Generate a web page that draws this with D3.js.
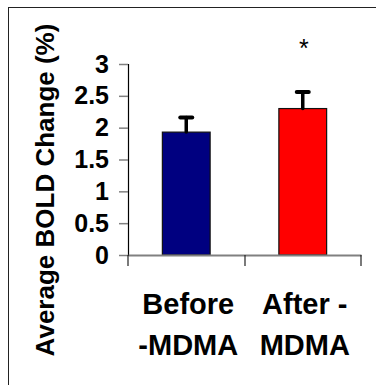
<!DOCTYPE html>
<html>
<head>
<meta charset="utf-8">
<script src="https://cdn.jsdelivr.net/npm/d3@7"></script>
<style>
    body { margin: 0; background: #fff; }
    svg { display: block; }
</style>
</head>
<body>
<svg id="chart"></svg>
<script>
    // values
    const groups = ["before", "after"];
    const labelLines = [["Before", "-MDMA"], ["After -", "MDMA"]];
    const means = [1.93, 2.30];
    const errors = [0.23, 0.26];
    const barColours = ["#000080", "#ff0000"];
    const marks = ["", "*"];
    const yTicks = [0, 0.5, 1, 1.5, 2, 2.5, 3];

    const width = 376,
        height = 385;

    const svg = d3.select("#chart")
        .attr("width", width)
        .attr("height", height);

    // frame
    svg.append("rect")
        .attr("x", 8.5)
        .attr("y", 7.5)
        .attr("width", 372)
        .attr("height", 390)
        .attr("fill", "none")
        .attr("stroke", "#222")
        .attr("stroke-width", 1);

    const x = d3.scaleBand()
        .domain(groups)
        .range([128, 361])
        .padding(0);

    const y = d3.scaleLinear()
        .domain([0, 3])
        .range([255, 64]);

    const barW = x.bandwidth() * 0.41;
    const font = "'Liberation Sans', Arial, sans-serif";

    // bars
    svg.append("g")
        .selectAll("rect")
        .data(groups)
        .join("rect")
        .attr("x", (d) => x(d) + x.bandwidth() / 2 - barW / 2)
        .attr("y", (d, i) => y(means[i]))
        .attr("width", barW)
        .attr("height", (d, i) => y(0) - y(means[i]))
        .attr("fill", (d, i) => barColours[i])
        .attr("stroke", "#111")
        .attr("stroke-width", 1.2);

    // error bars (upper half only)
    const err = svg.append("g")
        .attr("stroke", "#000")
        .attr("stroke-linecap", "round");

    err.selectAll("line.stem")
        .data(groups)
        .join("line")
        .attr("class", "stem")
        .attr("x1", (d) => x(d) + x.bandwidth() / 2)
        .attr("x2", (d) => x(d) + x.bandwidth() / 2)
        .attr("y1", (d, i) => y(means[i]))
        .attr("y2", (d, i) => y(means[i] + errors[i]))
        .attr("stroke-width", 3.5);

    err.selectAll("line.cap")
        .data(groups)
        .join("line")
        .attr("class", "cap")
        .attr("x1", (d) => x(d) + x.bandwidth() / 2 - 6)
        .attr("x2", (d) => x(d) + x.bandwidth() / 2 + 6)
        .attr("y1", (d, i) => y(means[i] + errors[i]))
        .attr("y2", (d, i) => y(means[i] + errors[i]))
        .attr("stroke-width", 4);

    // significance mark
    svg.append("g")
        .selectAll("text")
        .data(groups)
        .join("text")
        .attr("x", (d) => x(d) + x.bandwidth() / 2 + 1)
        .attr("y", 57)
        .attr("text-anchor", "middle")
        .attr("font-family", font)
        .attr("font-size", 25)
        .text((d, i) => marks[i]);

    // y axis
    const yAxis = svg.append("g")
        .attr("transform", "translate(128,0)")
        .call(d3.axisLeft(y).tickValues(yTicks).tickSize(9).tickPadding(10)
            .tickFormat(d3.format("")));
    yAxis.select(".domain").attr("stroke", "#000").attr("stroke-width", 1.2);
    yAxis.selectAll(".tick line").attr("stroke", "#808080").attr("stroke-width", 1.5);
    yAxis.selectAll(".tick text")
        .attr("font-family", font)
        .attr("font-weight", "bold")
        .attr("font-size", 25)
        .attr("fill", "#000");

    // x axis
    const xAxis = svg.append("g")
        .attr("transform", "translate(0,255)")
        .call(d3.axisBottom(x).tickSize(0).tickFormat(""));
    xAxis.select(".domain").attr("stroke", "#808080").attr("stroke-width", 2);
    xAxis.append("g")
        .selectAll("line")
        .data([128, 245, 361])
        .join("line")
        .attr("x1", (d) => d)
        .attr("x2", (d) => d)
        .attr("y1", 0)
        .attr("y2", 11)
        .attr("stroke", "#222")
        .attr("stroke-width", 1.2);

    // category labels
    const cat = svg.append("g")
        .attr("font-family", font)
        .attr("font-weight", "bold")
        .attr("font-size", 29)
        .attr("text-anchor", "middle");
    groups.forEach((g, i) => {
        labelLines[i].forEach((line, j) => {
            cat.append("text")
                .attr("x", x(g) + x.bandwidth() / 2 + 2)
                .attr("y", 314 + j * 41)
                .text(line);
        });
    });

    // y title
    svg.append("text")
        .attr("transform", "translate(54,190) rotate(-90)")
        .attr("text-anchor", "middle")
        .attr("font-family", font)
        .attr("font-weight", "bold")
        .attr("font-size", 26)
        .text("Average BOLD Change (%)");
</script>
</body>
</html>
